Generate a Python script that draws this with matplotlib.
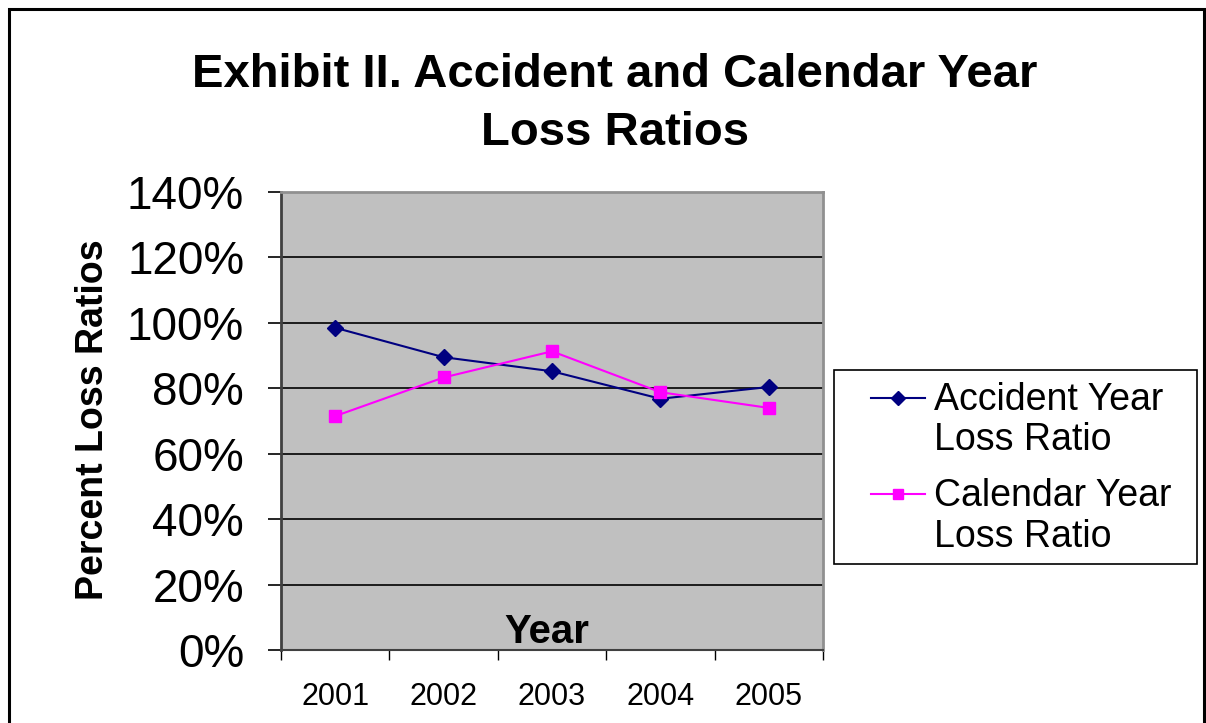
import matplotlib
matplotlib.use("Agg")
import matplotlib.pyplot as plt
from matplotlib.patches import Rectangle
from matplotlib.ticker import FixedLocator
from matplotlib.transforms import ScaledTranslation
from matplotlib.legend_handler import HandlerLine2D

plt.rcParams['font.family'] = ['Liberation Sans', 'DejaVu Sans']

years = ["2001", "2002", "2003", "2004", "2005"]
accident_year = [98.5, 89.5, 85.2, 76.8, 80.4]
calendar_year = [71.5, 83.3, 91.3, 78.8, 74.0]
y_ticks = [0, 20, 40, 60, 80, 100, 120, 140]
y_tick_labels = ["0%", "20%", "40%", "60%", "80%", "100%", "120%", "140%"]

W, H = 1206, 723
fig = plt.figure(figsize=(W / 100, H / 100), dpi=100)

# outer chart border
fig.patches.append(Rectangle((9 / W, -0.05), (1204 - 9) / W, (H - 9) / H + 0.05,
                             transform=fig.transFigure, fill=False,
                             edgecolor='black', linewidth=2.2))

ax = fig.add_axes([281 / W, 1 - 650 / H, (823 - 281) / W, (650 - 192) / H])
ax.set_facecolor('#C0C0C0')

x = list(range(len(years)))
ax.plot(x, accident_year, color='#000080', marker='D', markersize=8.5,
        linewidth=1.5, label='Accident Year\nLoss Ratio', zorder=3)
ax.plot(x, calendar_year, color='#FF00FF', marker='s', markersize=8.5,
        linewidth=1.5, label='Calendar Year\nLoss Ratio', zorder=3)

ax.set_xlim(-0.5, len(years) - 0.5)
ax.set_ylim(0, 140)
ax.set_yticks(y_ticks)
ax.set_yticklabels(y_tick_labels, fontsize=33)
shift = ScaledTranslation(0, -0.03, fig.dpi_scale_trans)
for lab in ax.get_yticklabels():
    lab.set_transform(lab.get_transform() + shift)
for yv in y_ticks[1:-1]:
    ax.axhline(yv, color='black', linewidth=1.2, zorder=1)

ax.set_xticks(x)
ax.set_xticklabels(years, fontsize=22)
ax.tick_params(axis='x', which='major', length=0, pad=23)
ax.xaxis.set_minor_locator(FixedLocator([i - 0.5 for i in range(len(years) + 1)]))
ax.tick_params(axis='x', which='minor', length=7, direction='out', width=1, color='black')
ax.tick_params(axis='y', which='major', length=9.5, direction='out', width=1.2, color='black', pad=17)

for s in ['top', 'right']:
    ax.spines[s].set_color('#909090')
    ax.spines[s].set_linewidth(2)
ax.spines['left'].set_color('#404040')
ax.spines['left'].set_linewidth(2)
ax.spines['bottom'].set_color('#404040')
ax.spines['bottom'].set_linewidth(1.5)

fig.text(547 / W, 1 - 643 / H, 'Year', ha='center', va='baseline',
         fontsize=29, fontweight='bold')

fig.text(93 / W, 1 - 420 / H, 'Percent Loss Ratios', rotation=90, ha='center', va='center',
         fontsize=27, fontweight='bold')

fig.text(615 / W, 1 - 75 / H, 'Exhibit II. Accident and Calendar Year', ha='center', va='center',
         fontsize=34, fontweight='bold')
fig.text(615 / W, 1 - 133 / H, 'Loss Ratios', ha='center', va='center',
         fontsize=34, fontweight='bold')


class FirstLineHandler(HandlerLine2D):
    def create_artists(self, legend, orig_handle, xdescent, ydescent, width, height,
                       fontsize, trans):
        arts = super().create_artists(legend, orig_handle, xdescent, ydescent, width,
                                      height, fontsize, trans)
        for a in arts:
            a.set_ydata([v + 17 for v in a.get_ydata()])
        return arts


# legend frame
fig.patches.append(Rectangle((834 / W, 1 - 564 / H), (1197 - 834) / W, (564 - 370) / H,
                             transform=fig.transFigure, fill=True, facecolor='white',
                             edgecolor='black', linewidth=1.2, zorder=1))

leg = fig.legend(loc='upper left', bbox_to_anchor=(871 / W, 1 - 382 / H), fontsize=27,
                 frameon=False, handlelength=1.45, markerscale=0.85, borderpad=0,
                 labelspacing=0.53, handletextpad=0.22, borderaxespad=0,
                 handler_map={plt.Line2D: FirstLineHandler()})
for t in leg.get_texts():
    t.set_linespacing(1.16)

fig.savefig('out.png', dpi=100)
